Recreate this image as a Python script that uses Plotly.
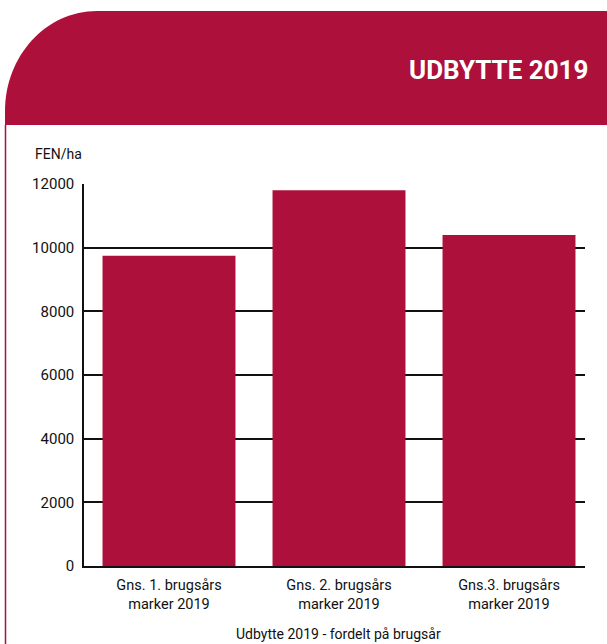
import plotly.graph_objects as go

categories = ["Gns. 1. brugsårs<br>marker 2019", "Gns. 2. brugsårs<br>marker 2019", "Gns.3. brugsårs<br>marker 2019"]
values = [9750, 11800, 10400]
y_ticks = [0, 2000, 4000, 6000, 8000, 10000, 12000]
title_text = "UDBYTTE 2019"
y_unit = "FEN/ha"
x_title = "Udbytte 2019 - fordelt på brugsår"

CRIMSON = "#AD103A"
W, H = 607, 644
L, R, T, B = 84, 22, 184, 78
PW, PH = W - L - R, H - T - B


def px(x):
    return (x - L) / PW


def py(y):
    return (H - B - y) / PH


fig = go.Figure()
fig.add_trace(go.Bar(
    x=[0, 1, 2], y=values, width=0.782,
    marker=dict(color=CRIMSON, line=dict(width=0)),
    hoverinfo="skip",
))

# header band with rounded top-left corner
x0, y0 = 5, 11
y1 = 125
rx, ry = 92, 100
k = 0.552
path = (
    f"M {px(x0)},{py(y1)} "
    f"L {px(x0)},{py(y0 + ry)} "
    f"C {px(x0)},{py(y0 + ry - k * ry)} {px(x0 + rx - k * rx)},{py(y0)} {px(x0 + rx)},{py(y0)} "
    f"L {px(W)},{py(y0)} L {px(W)},{py(y1)} Z"
)
shapes = [
    dict(type="path", xref="paper", yref="paper", path=path,
         fillcolor=CRIMSON, line=dict(width=0), layer="below"),
    dict(type="line", xref="paper", yref="paper",
         x0=px(5.5), x1=px(5.5), y0=py(y1), y1=py(H),
         line=dict(color=CRIMSON, width=1.5)),
]

annotations = [
    dict(text=f"<b>{title_text}</b>", xref="paper", yref="paper",
         x=px(590), y=py(70), xanchor="right", yanchor="middle",
         showarrow=False, font=dict(family="Roboto", size=26, color="white")),
    dict(text=y_unit, xref="paper", yref="paper",
         x=px(33), y=py(154), xanchor="left", yanchor="middle",
         showarrow=False, font=dict(family="Roboto", size=14, color="#111")),
    dict(text=x_title, xref="paper", yref="paper",
         x=px(338), y=py(634), xanchor="center", yanchor="middle",
         showarrow=False, font=dict(family="Roboto", size=14, color="#111")),
]

fig.update_layout(
    width=W, height=H,
    margin=dict(l=L, r=R, t=T, b=B, pad=0),
    paper_bgcolor="white", plot_bgcolor="white",
    showlegend=False,
    shapes=shapes,
    annotations=annotations,
    font=dict(family="Roboto", color="#111"),
    xaxis=dict(
        range=[-0.5, 2.447],
        tickmode="array", tickvals=[0, 1, 2], ticktext=categories,
        showline=True, linecolor="#111", linewidth=1.5,
        showgrid=False, zeroline=False, ticks="", ticklabelstandoff=5,
        tickfont=dict(family="Roboto", size=14.5, color="#111"),
        fixedrange=True,
    ),
    yaxis=dict(
        range=[0, 12000],
        tickmode="array", tickvals=y_ticks, ticktext=[str(v) for v in y_ticks],
        showline=True, linecolor="#111", linewidth=1.5,
        showgrid=True, gridcolor="#111", gridwidth=1.5,
        zeroline=False, ticks="", ticklabelstandoff=5,
        tickfont=dict(family="Roboto", size=15, color="#111"),
        fixedrange=True,
    ),
)

fig.write_html("out.html", config={"displayModeBar": False},
               post_script="document.body.style.margin='0';document.body.style.overflow='hidden';")
